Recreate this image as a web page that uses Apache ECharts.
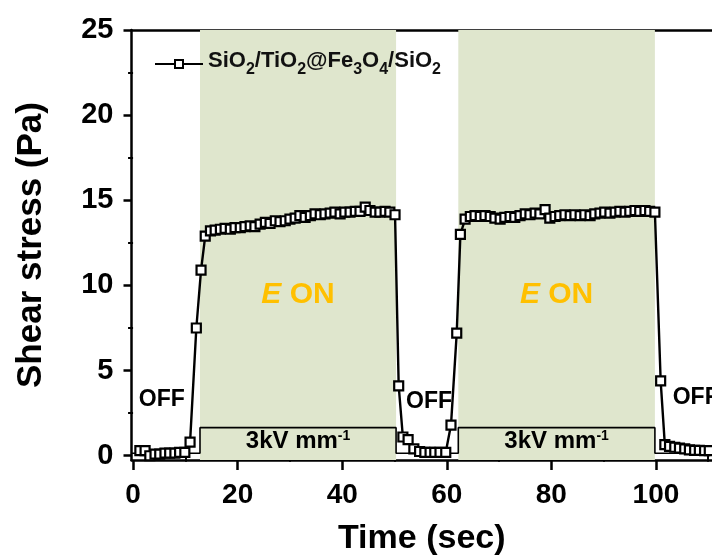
<!DOCTYPE html>
<html>
<head>
<meta charset="utf-8">
<script src="https://cdn.jsdelivr.net/npm/echarts@6/dist/echarts.min.js"></script>
<style>
  html, body { margin: 0; padding: 0; background: #fff; }
  #chart { width: 712px; height: 557px; }
</style>
</head>
<body>
<div id="chart"></div>
<script>
// Shear stress response of the ER fluid under a switched electric field
const sampleName = 'SiO2/TiO2@Fe3O4/SiO2';

const timeSec = [
  1.3, 2.3, 3.2, 4.2, 5.1, 6.1, 7.0, 8.0, 8.9, 9.9,
  10.9, 12.1, 13.0,
  13.8, 14.8, 15.7, 16.7, 17.6, 18.6, 19.5, 20.5, 21.4, 22.4,
  23.3, 24.3, 25.3, 26.2, 27.2, 28.1, 29.1, 30.0, 31.0, 31.9,
  32.9, 33.9, 34.8, 35.8, 36.7, 37.7, 38.6, 39.6, 40.5, 41.5,
  42.5, 43.4, 44.4, 45.3, 46.3, 47.2, 48.2, 49.1, 50.1,
  50.8, 51.6, 52.6, 53.7, 54.8, 55.8, 56.8, 57.7, 58.7, 59.8,
  60.8, 61.9, 62.6,
  63.5, 64.5, 65.4, 66.4, 67.3, 68.3, 69.2, 70.2, 71.1, 72.1,
  73.0, 74.0, 75.0, 75.9, 76.9, 77.8, 78.8, 79.7, 80.7, 81.6,
  82.6, 83.6, 84.5, 85.5, 86.4, 87.4, 88.3, 89.3, 90.2, 91.2,
  92.2, 93.1, 94.1, 95.0, 96.0, 96.9, 97.9, 98.8, 99.8,
  100.9, 101.7, 102.6, 103.6, 104.5, 105.5, 106.4, 107.4, 108.3, 109.3,
  110.2, 111.2
];

const shearStress = [
  0.3, 0.3, 0.0, 0.1, 0.1, 0.15, 0.15, 0.15, 0.2, 0.2,
  0.8, 7.5, 10.9,
  12.9, 13.2, 13.25, 13.3, 13.35, 13.3, 13.4, 13.4, 13.45, 13.5,
  13.45, 13.6, 13.7, 13.65, 13.8, 13.75, 13.8, 13.9, 13.95, 14.1,
  14.0, 14.1, 14.2, 14.15, 14.2, 14.25, 14.3, 14.2, 14.3, 14.3,
  14.35, 14.35, 14.6, 14.4, 14.3, 14.3, 14.35, 14.3, 14.15,
  4.1, 1.1, 0.95, 0.4, 0.25, 0.2, 0.2, 0.2, 0.2, 0.2,
  1.8, 7.2, 13.0,
  13.9, 14.05, 14.1, 14.05, 14.1, 14.05, 13.95, 13.9, 14.0, 14.05,
  14.0, 14.1, 14.2, 14.15, 14.25, 14.2, 14.45, 13.95, 14.05, 14.1,
  14.15, 14.1, 14.15, 14.1, 14.15, 14.1, 14.2, 14.25, 14.3, 14.25,
  14.3, 14.35, 14.3, 14.35, 14.4, 14.35, 14.4, 14.35, 14.3,
  4.4, 0.65, 0.55, 0.5, 0.45, 0.4, 0.35, 0.32, 0.31, 0.3,
  0.3, 0.3
];

// Applied field: square wave between off and on (3 kV/mm)
const fieldTime  = [-0.3, 12.8, 12.8, 50.3, 50.3, 62.2, 62.2, 99.8, 99.8, 120];
const fieldLevel = [0.15, 0.15, 1.65, 1.65, 0.15, 0.15, 1.65, 1.65, 0.15, 0.15];

const fieldOnStart = [12.8, 62.2];
const fieldOnEnd   = [50.3, 99.8];

const offLabelTime = [5.5, 56.6, 107.6];
const offLabelLevel = [3.3, 3.2, 3.4];

const xTicks = [0, 20, 40, 60, 80, 100];
const xMinorTicks = [10, 30, 50, 70, 90, 110];
const yTicks = [0, 5, 10, 15, 20, 25];
const yMinorTicks = [2.5, 7.5, 12.5, 17.5, 22.5];

const FONT = '"Liberation Sans", Arial, sans-serif';
// the time axis runs on past the right edge of the canvas
const X_MIN = -0.3, X_MAX = 110.72, Y_MIN = -0.25, Y_MAX = 25;

const chart = echarts.init(document.getElementById('chart'), null, { renderer: 'canvas' });

const stressData = timeSec.map((t, i) => [t, shearStress[i]]);
const fieldData = fieldTime.map((t, i) => [t, fieldLevel[i]]);
const offData = offLabelTime.map((t, i) => [t, offLabelLevel[i]]);

const onAreas = fieldOnStart.map((s, i) => [{ xAxis: s }, { xAxis: fieldOnEnd[i] }]);
const boxAreas = fieldOnStart.map((s, i) => [
  { xAxis: s, yAxis: fieldLevel[0] },
  { xAxis: fieldOnEnd[i], yAxis: fieldLevel[2] }
]);

const axisLineStyle = { color: '#000', width: 2.5 };

chart.setOption({
  animation: false,
  backgroundColor: '#fff',
  textStyle: { fontFamily: FONT },
  grid: { left: 131.5, top: 30, right: 0, height: 430, containLabel: false, outerBoundsMode: 'none' },
  legend: {
    left: 154, top: 50, padding: 0,
    itemWidth: 48, itemHeight: 10, itemGap: 4,
    data: [sampleName],
    formatter: () => '{m|SiO}{s|2}{m|/TiO}{s|2}{m|@Fe}{s|3}{m|O}{s|4}{m|/SiO}{s|2}',
    textStyle: {
      rich: {
        m: { fontFamily: FONT, fontWeight: 'bold', fontSize: 22, color: '#111', verticalAlign: 'top' },
        s: { fontFamily: FONT, fontWeight: 'bold', fontSize: 16, color: '#111', verticalAlign: 'top', padding: [12, 0, 0, 0] }
      }
    }
  },
  xAxis: [
    {
      type: 'value', min: X_MIN, max: X_MAX, position: 'bottom',
      name: 'Time (sec)', nameLocation: 'middle', nameGap: 62,
      nameTextStyle: { fontFamily: FONT, fontWeight: 'bold', fontSize: 34, color: '#000' },
      axisLine: { show: true, onZero: false, lineStyle: axisLineStyle },
      axisTick: { show: true, inside: false, length: 10, customValues: xTicks, lineStyle: { color: '#000', width: 2.5 } },
      axisLabel: { show: true, customValues: xTicks, margin: 21, fontFamily: FONT, fontWeight: 'bold', fontSize: 28, color: '#000' },
      splitLine: { show: false }
    },
    {
      type: 'value', min: X_MIN, max: X_MAX, position: 'bottom',
      axisLine: { show: false },
      axisTick: { show: true, inside: false, length: 6, customValues: xMinorTicks, lineStyle: { color: '#000', width: 2 } },
      axisLabel: { show: false },
      splitLine: { show: false }
    },
    {
      type: 'value', min: X_MIN, max: X_MAX, position: 'top',
      axisLine: { show: true, onZero: false, lineStyle: axisLineStyle },
      axisTick: { show: false }, axisLabel: { show: false }, splitLine: { show: false }
    }
  ],
  yAxis: [
    {
      type: 'value', min: Y_MIN, max: Y_MAX, position: 'left',
      name: 'Shear stress (Pa)', nameLocation: 'middle', nameGap: 83,
      nameTextStyle: { fontFamily: FONT, fontWeight: 'bold', fontSize: 35, color: '#000' },
      axisLine: { show: true, onZero: false, lineStyle: axisLineStyle },
      axisTick: { show: true, inside: false, length: 8, customValues: yTicks, lineStyle: { color: '#000', width: 2.5 } },
      axisLabel: { show: true, customValues: yTicks, margin: 18, fontFamily: FONT, fontWeight: 'bold', fontSize: 29, color: '#000' },
      splitLine: { show: false }
    },
    {
      type: 'value', min: Y_MIN, max: Y_MAX, position: 'left',
      axisLine: { show: false },
      axisTick: { show: true, inside: false, length: 5, customValues: yMinorTicks, lineStyle: { color: '#000', width: 2 } },
      axisLabel: { show: false },
      splitLine: { show: false }
    }
  ],
  series: [
    {
      // shaded field-on windows
      type: 'line', data: [], silent: true, z: 1,
      markArea: {
        silent: true,
        itemStyle: { color: '#dfe6cd' },
        label: {
          show: true, position: 'inside', offset: [0, 50],
          formatter: '{e|E }{o|ON}',
          rich: {
            e: { fontFamily: FONT, fontStyle: 'italic', fontWeight: 'bold', fontSize: 30, color: '#ffc000' },
            o: { fontFamily: FONT, fontWeight: 'bold', fontSize: 30, color: '#ffc000' }
          }
        },
        data: onAreas
      }
    },
    {
      // OFF annotations
      type: 'scatter', data: offData, symbolSize: 0, silent: true, z: 2,
      itemStyle: { opacity: 1 },
      label: {
        show: true, position: 'inside', formatter: 'OFF',
        fontFamily: FONT, fontWeight: 'bold', fontSize: 23, color: '#000'
      }
    },
    {
      // applied field square wave with its level label
      type: 'line', data: fieldData, symbol: 'none', silent: true, z: 3,
      lineStyle: { color: '#000', width: 1.6 },
      markArea: {
        silent: true,
        itemStyle: { color: 'rgba(0,0,0,0)' },
        label: {
          show: true, position: 'inside', offset: [0, 1],
          formatter: '{t|3kV mm}{p|-1}',
          rich: {
            t: { fontFamily: FONT, fontWeight: 'bold', fontSize: 24, color: '#000', verticalAlign: 'top' },
            p: { fontFamily: FONT, fontWeight: 'bold', fontSize: 14, color: '#000', verticalAlign: 'top' }
          }
        },
        data: boxAreas
      }
    },
    {
      name: sampleName,
      type: 'line', data: stressData, z: 5,
      symbol: 'rect', symbolSize: 9, showSymbol: true,
      itemStyle: { color: '#fff', borderColor: '#000', borderWidth: 2.2 },
      lineStyle: { color: '#000', width: 2.4 },
      emphasis: { disabled: true }
    }
  ]
});
</script>
</body>
</html>
